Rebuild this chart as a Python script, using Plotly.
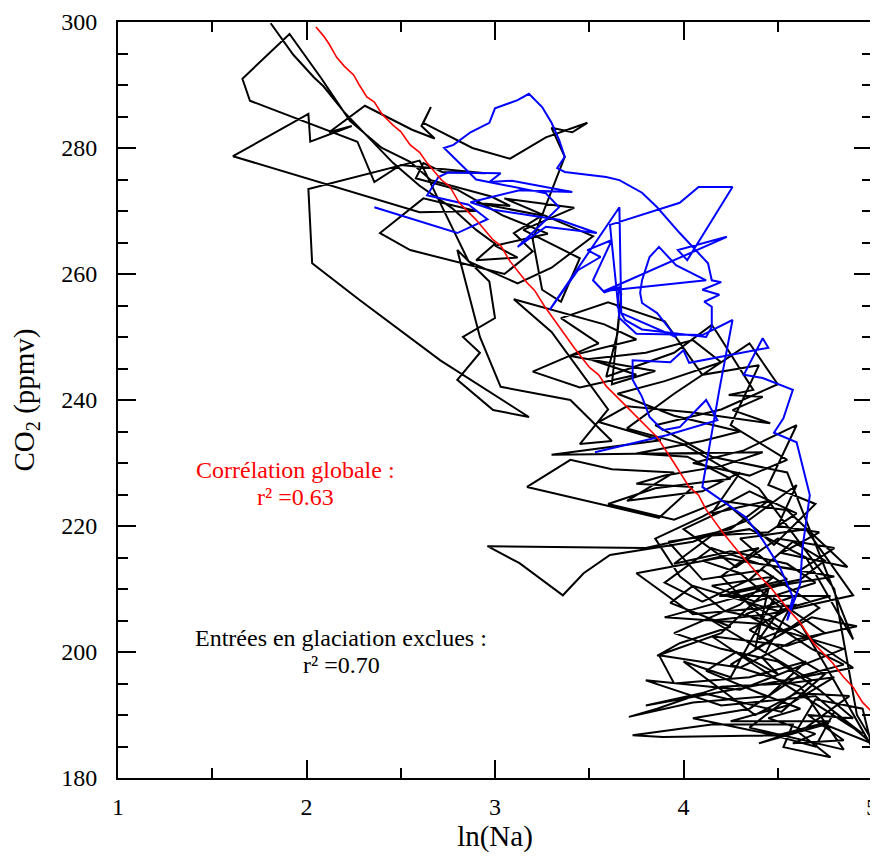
import plotly.graph_objects as go

# regression line (global correlation)
red_pts = [
    (2.05, 299.2), (2.09, 297.8), (2.12, 296.5), (2.16, 294.4), (2.20, 293.0), (2.25, 291.6),
    (2.28, 290.0), (2.32, 288.1), (2.36, 287.3), (2.40, 285.4), (2.46, 283.6), (2.50, 282.6),
    (2.55, 280.5), (2.60, 279.3), (2.64, 277.6), (2.72, 274.8), (2.76, 273.9), (2.81, 271.3),
    (2.90, 268.6), (2.99, 265.4), (3.03, 264.5), (3.08, 262.0), (3.17, 258.6), (3.21, 257.4),
    (3.26, 255.0), (3.34, 251.6), (3.42, 248.3), (3.50, 245.2), (3.55, 244.0), (3.59, 242.2),
    (3.68, 239.5), (3.77, 236.8), (3.86, 234.1), (3.95, 230.0), (4.03, 226.2), (4.08, 224.9),
    (4.12, 222.6), (4.21, 218.9), (4.30, 215.6), (4.39, 212.5), (4.46, 210.3), (4.55, 207.0),
    (4.62, 204.6), (4.69, 201.4), (4.79, 198.3), (4.85, 196.0), (4.90, 194.4), (4.95, 192.0),
    (5.00, 190.5),
]

# entrées en glaciation
blue_pts = [
    (2.36, 270.6), (2.80, 266.5), (2.96, 268.7), (2.86, 271.0), (2.64, 272.5), (2.70, 275.4),
    (2.75, 276.1), (3.03, 276.0), (2.97, 274.6), (3.09, 274.8), (3.41, 273.0), (3.13, 273.3),
    (2.87, 271.4), (2.99, 270.2), (3.34, 268.6), (3.54, 266.5), (3.27, 267.5), (3.12, 264.3),
    (3.34, 270.6), (3.27, 272.8), (2.90, 275.0), (2.73, 280.0), (2.78, 280.5), (2.87, 282.5),
    (2.97, 284.0), (3.00, 286.3), (3.12, 287.6), (3.18, 288.6), (3.25, 286.5), (3.30, 284.0),
    (3.34, 281.3), (3.37, 278.6), (3.33, 276.8), (3.37, 276.2), (3.59, 275.4), (3.66, 274.9),
    (3.78, 272.9), (3.86, 270.6), (3.98, 266.5), (4.10, 262.7), (4.13, 261.7), (4.15, 259.0),
    (4.20, 258.7), (4.10, 257.5), (4.19, 256.7), (4.11, 255.6), (4.15, 254.8), (4.15, 251.6),
    (4.12, 250.0), (3.78, 251.2), (3.69, 252.7), (3.65, 254.8), (3.66, 257.9), (3.58, 257.1),
    (3.52, 259.0), (3.62, 265.4), (3.49, 263.8), (3.56, 262.7), (3.44, 260.6), (3.29, 254.3),
    (3.66, 270.6), (3.67, 253.8), (3.96, 250.0), (3.86, 253.8), (3.78, 255.4), (3.77, 257.0),
    (3.78, 259.0), (3.82, 262.7), (3.87, 264.3), (3.96, 261.4), (4.12, 259.0), (3.58, 257.3),
    (4.23, 265.9), (3.97, 263.8), (4.02, 262.2), (4.26, 273.8), (4.08, 273.8), (3.98, 271.3),
    (3.61, 267.8), (3.66, 253.0), (3.75, 250.5), (4.10, 250.3), (4.26, 252.7), (4.19, 241.6),
    (4.10, 226.2), (4.33, 221.4), (4.42, 217.8), (4.51, 213.5), (4.58, 208.7), (4.55, 205.0),
    (4.62, 210.9), (4.63, 216.2), (4.67, 224.9), (4.60, 233.3), (4.48, 234.8), (4.53, 237.1),
    (4.58, 241.6), (4.42, 243.5), (4.32, 244.0), (4.42, 249.8), (4.45, 248.3), (4.03, 245.9),
    (4.00, 247.9), (3.93, 246.0), (3.73, 246.3), (3.73, 243.2), (3.78, 240.5), (3.82, 237.3),
    (3.89, 235.2), (3.98, 235.7), (4.12, 240.0), (4.18, 236.8), (3.91, 234.4), (3.53, 231.7),
]

# toutes les données (black)
black_top = [
    (1.81, 299.8), (1.93, 294.8), (2.04, 291.2), (2.09, 289.8), (2.20, 285.7), (2.33, 281.6),
    (2.46, 277.6), (2.60, 274.0), (2.77, 270.5), (2.90, 267.0), (3.00, 264.8), (2.90, 262.2),
    (3.12, 262.6), (3.00, 264.5), (3.28, 266.4), (3.04, 269.3), (2.80, 273.4), (2.58, 275.2),
    (2.62, 277.6), (2.72, 276.2), (2.95, 276.0), (2.50, 277.3), (2.36, 274.6), (2.27, 281.0),
    (1.70, 287.5), (1.66, 291.0), (1.91, 298.1), (2.08, 291.0), (2.23, 284.3), (2.40, 280.0),
    (2.55, 277.8), (2.66, 274.9), (2.98, 272.3), (3.08, 270.8), (2.90, 271.3), (3.25, 269.3),
    (3.10, 266.5), (3.20, 263.6), (3.05, 260.0), (2.55, 263.8), (2.39, 266.5), (2.62, 272.0),
    (2.90, 270.0), (2.60, 269.8), (1.61, 278.7), (2.01, 285.4), (2.02, 281.0), (2.24, 283.5),
    (2.12, 282.5), (2.31, 286.7), (2.56, 282.9), (2.68, 281.5), (2.61, 283.5), (2.66, 286.5),
    (2.62, 284.0), (2.88, 280.0), (3.08, 278.3), (3.27, 281.7), (3.49, 284.0), (3.41, 282.5),
    (3.30, 283.2), (3.37, 278.6), (3.33, 275.5), (3.27, 271.0), (3.20, 265.5), (3.25, 257.5),
    (3.35, 255.6), (3.45, 262.5), (3.15, 267.0), (3.42, 270.5), (3.05, 272.0), (3.52, 266.0),
    (3.30, 261.0), (3.12, 258.5), (2.86, 262.0), (2.60, 278.0), (2.16, 274.6), (2.01, 273.5),
    (2.03, 261.7), (2.28, 255.9), (2.71, 246.3), (3.18, 237.3),
]
black_mid = [
    (2.99, 238.4), (2.80, 243.2), (2.92, 247.5), (2.83, 250.0), (3.00, 253.0), (2.97, 258.8),
    (2.80, 263.8), (2.92, 250.0), (3.03, 242.1), (3.40, 240.0), (3.62, 233.5), (3.45, 233.0),
    (3.60, 238.5), (3.30, 250.8), (3.10, 256.0), (3.58, 252.0), (3.75, 249.6), (3.40, 247.0),
    (3.85, 244.6), (3.62, 242.5), (3.67, 257.0), (3.65, 250.6), (3.59, 243.7), (3.95, 247.5),
    (4.15, 251.9), (4.18, 250.6), (4.37, 241.6), (4.24, 240.8), (4.42, 240.5), (4.26, 238.4),
    (4.46, 236.3), (4.05, 238.0), (3.70, 239.0), (3.55, 236.5), (3.88, 233.6), (3.30, 231.3),
    (4.42, 231.7), (4.20, 229.5), (3.90, 228.0), (3.75, 226.7), (4.05, 226.2), (3.87, 221.3),
    (3.17, 226.2), (3.40, 230.5), (3.62, 229.0), (3.95, 228.5), (3.70, 224.0), (4.10, 225.5),
    (4.30, 228.5), (4.15, 222.0), (4.45, 224.0), (4.25, 219.5), (3.80, 216.5), (2.96, 216.8),
    (3.13, 214.1), (3.36, 209.0), (3.47, 212.5), (3.61, 215.4), (4.05, 217.5), (4.35, 221.0),
    (4.60, 226.5), (4.50, 220.0), (4.72, 219.0), (4.52, 215.7), (4.87, 213.5),
]
black_band = [
    (4.55, 222.5), (4.20, 224.0), (3.95, 221.0), (3.60, 223.5), (3.85, 226.0), (4.25, 227.5),
    (4.02, 231.0), (3.75, 231.5), (4.10, 233.5), (4.30, 235.0), (3.95, 237.5), (3.65, 241.0),
    (3.90, 243.0), (4.20, 246.0), (4.05, 249.5), (3.80, 247.5), (3.50, 246.5), (3.75, 244.0),
    (3.45, 242.0), (3.20, 244.5), (3.55, 249.0), (3.35, 253.0), (3.60, 255.5), (3.90, 252.5),
    (4.10, 244.0), (4.40, 245.5), (4.25, 236.0), (4.55, 230.5), (4.35, 228.0), (4.05, 230.0),
    (4.32, 232.0), (4.60, 236.0), (4.45, 226.5), (4.70, 223.5), (4.48, 217.0), (4.25, 223.0),
    (4.00, 219.5), (4.28, 213.5), (4.50, 218.0), (4.80, 216.5), (4.62, 213.0), (4.40, 214.0),
    (4.15, 216.5), (3.90, 211.0), (4.10, 208.0), (4.35, 211.5), (4.58, 217.5), (4.75, 214.5),
]
black_low = [
    (4.62, 211.5), (4.19, 208.9), (4.78, 208.9), (4.50, 206.5), (4.05, 210.5), (3.93, 207.8),
    (4.25, 204.0), (3.98, 201.4), (3.86, 199.4), (4.20, 203.0), (4.45, 210.0), (4.38, 200.5),
    (4.68, 205.5), (4.92, 204.1), (4.60, 202.0), (4.30, 197.5), (3.87, 199.5), (3.95, 195.0),
    (4.35, 196.0), (4.65, 198.5), (4.45, 193.0), (4.05, 192.0), (3.71, 189.7), (3.86, 191.0),
    (4.20, 194.5), (4.55, 195.0), (4.80, 196.0), (4.55, 191.5), (4.25, 189.0), (4.78, 189.0),
    (4.50, 186.8), (3.89, 186.5), (3.73, 186.8), (4.15, 188.5), (4.58, 188.5), (4.53, 184.9),
    (4.78, 183.3), (4.60, 187.5), (4.70, 192.5), (4.95, 191.0), (5.00, 184.9), (4.75, 198.0),
    (4.62, 204.5), (4.40, 202.0), (4.52, 207.0), (4.30, 212.5), (4.10, 214.5), (4.40, 216.5),
    (4.20, 212.0), (4.48, 203.5), (4.33, 206.0), (4.60, 209.0), (4.42, 199.0), (4.50, 196.5),
    (4.28, 200.0), (4.12, 197.0), (4.40, 193.5), (4.62, 191.0), (4.45, 189.5), (4.70, 187.0),
    (4.58, 185.5), (4.85, 186.0), (4.66, 190.0), (4.90, 189.5), (4.72, 194.0), (4.50, 198.5),
    (4.20, 200.5), (3.95, 203.0), (4.30, 207.5), (4.48, 212.0), (4.15, 210.5), (4.38, 208.0),
    (4.70, 211.0), (4.55, 214.0), (4.25, 216.0), (3.95, 214.0), (4.15, 218.5), (4.45, 219.0),
    (4.60, 222.0), (4.35, 225.5), (4.10, 221.5), (3.85, 218.0), (3.98, 212.0), (4.22, 206.5),
    (4.45, 205.0), (4.68, 200.5), (4.85, 198.0), (4.60, 196.0), (4.35, 191.0), (4.05, 189.5),
    (4.45, 187.0), (4.70, 185.0), (4.80, 190.5), (4.95, 187.0), (4.40, 197.5), (4.15, 202.5),
    (4.55, 201.0), (4.75, 203.0), (4.48, 208.5), (4.25, 196.0), (4.00, 198.5), (4.38, 190.0),
    (4.60, 193.5), (4.88, 193.0), (4.65, 188.0), (4.40, 185.5), (4.75, 188.5), (5.00, 185.5),
]
black_end = [
    (4.70, 193.0), (4.20, 191.5), (3.80, 195.5), (4.30, 194.0), (4.85, 200.5), (4.40, 204.5),
    (3.90, 205.5), (4.50, 210.5), (4.80, 212.0), (4.20, 215.0), (3.75, 212.5), (4.05, 206.0),
    (4.60, 207.5), (4.35, 203.5), (4.75, 196.5), (4.52, 190.5), (4.10, 193.5), (3.80, 191.5),
    (4.45, 195.0), (4.90, 197.5), (4.65, 202.5), (4.25, 209.5), (4.55, 211.5), (4.30, 218.0),
    (4.65, 219.5), (4.90, 209.0), (4.45, 206.0), (4.15, 205.0), (4.68, 195.5), (4.35, 188.0),
    (4.85, 184.5), (4.62, 194.5), (4.25, 198.0), (4.50, 202.5), (4.72, 207.0), (4.42, 213.0),
    (4.10, 211.5), (3.92, 217.5), (4.35, 219.5), (4.65, 215.0), (4.90, 202.0), (4.55, 228.5),
    (4.15, 231.0), (3.85, 236.0), (4.20, 238.5), (4.50, 242.5), (4.35, 249.0), (3.95, 241.0),
    (3.70, 235.5), (4.00, 233.0), (4.40, 226.0), (4.80, 210.0), (4.92, 190.0), (5.00, 186.0),
]

FONT = "Liberation Serif, Times New Roman, serif"


def xy(points):
    return [p[0] for p in points], [p[1] for p in points]


fig = go.Figure()

bx, by = xy(black_top + black_mid + black_band + black_low + black_end)
fig.add_trace(go.Scatter(x=bx, y=by, mode='lines', line={'color': 'black', 'width': 2}))

ux, uy = xy(blue_pts)
fig.add_trace(go.Scatter(x=ux, y=uy, mode='lines', line={'color': '#0000ff', 'width': 2}))

rx, ry = xy(red_pts)
fig.add_trace(go.Scatter(x=rx, y=ry, mode='lines', line={'color': '#ff0000', 'width': 1.6}))

axis_style = dict(
    showline=True, linewidth=2, linecolor='black', mirror='allticks',
    ticks='inside', ticklen=18, tickwidth=2, tickcolor='black',
    showgrid=False, zeroline=False, automargin=False,
    tickfont={'family': FONT, 'size': 24, 'color': 'black'},
)

fig.update_xaxes(
    range=[1, 5], tick0=1, dtick=1, ticklabelstandoff=6,
    minor={'dtick': 0.5, 'ticks': 'inside', 'ticklen': 10, 'tickwidth': 2, 'tickcolor': 'black'},
    title={'text': 'ln(Na)', 'font': {'family': FONT, 'size': 29}, 'standoff': 2},
    **axis_style,
)
fig.update_yaxes(
    range=[180, 300], tick0=180, dtick=20, ticklabelstandoff=14,
    minor={'dtick': 5, 'ticks': 'inside', 'ticklen': 10, 'tickwidth': 2, 'tickcolor': 'black'},
    title={'text': 'CO<sub>2</sub> (ppmv)', 'font': {'family': FONT, 'size': 29}, 'standoff': 20},
    **axis_style,
)

notes = [
    (1.94, 228.9, 'Corrélation globale :', '#ff0000'),
    (1.94, 224.6, 'r² =0.63', '#ff0000'),
    (2.185, 202.2, 'Entrées en glaciation exclues :', 'black'),
    (2.185, 197.9, 'r² =0.70', 'black'),
]
for nx_, ny_, txt, col in notes:
    fig.add_annotation(x=nx_, y=ny_, text=txt, showarrow=False,
                       font={'family': FONT, 'size': 24, 'color': col})

# the page adds an 8 px body margin, so the figure is 8 px smaller than the window
fig.update_layout(
    width=870, height=848,
    margin={'l': 110, 'r': 6, 't': 14, 'b': 78},
    plot_bgcolor='white', paper_bgcolor='white',
    showlegend=False,
    font={'family': FONT, 'color': 'black'},
)

fig.write_html("out.html")
